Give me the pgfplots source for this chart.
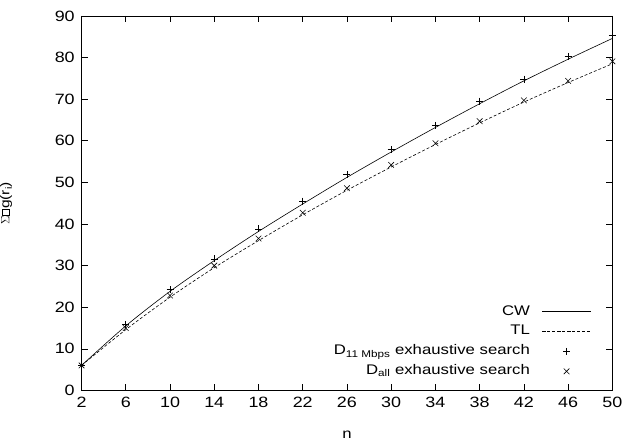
\documentclass[border=0pt]{standalone}
\usepackage{pgfplots}
\pgfplotsset{compat=1.18}
\usepackage{fontspec}
\setmainfont{Liberation Sans}[FakeStretch=1.2]
\pgfplotstableread{
n cw tl
2 6.0 6.0
6 15.5 14.6
10 23.8 22.4
14 31.2 29.5
18 38.2 36.0
22 44.8 42.2
26 51.2 48.1
30 57.3 53.7
34 63.2 59.1
38 68.9 64.3
42 74.4 69.3
46 79.6 74.0
50 84.6 78.5
}\lines
\pgfplotstableread{
n p x
2 6.0 6.0
6 15.9 15.0
10 24.2 22.8
14 31.6 30.0
18 38.8 36.5
22 45.5 42.7
26 51.9 48.6
30 57.9 54.2
34 63.7 59.4
38 69.5 64.7
42 74.8 69.7
46 80.3 74.4
50 85.4 79.1
}\marks
\pgfplotsset{
  longlegend/.style={legend image code/.code={\draw[mark repeat=2,mark phase=2,##1] plot coordinates {(0pt,0pt)(24.5pt,0pt)(49pt,0pt)};}},
}
\begin{document}
\fontsize{14}{16}\selectfont
\begin{tikzpicture}
\begin{axis}[
  scale only axis, width=533pt, height=376pt,
  xmin=2, xmax=50, ymin=0, ymax=90,
  xtick={2,6,...,50}, ytick={0,10,...,90},
  tick align=inside, major tick length=6pt,
  tick style={black, line width=0.6pt},
  axis line style={line width=0.8pt},
  /pgf/number format/assume math mode=true,
  tick label style={font=\fontsize{15}{17}\selectfont},
  xticklabel style={yshift=-2pt},
  yticklabel style={xshift=-2pt},
  label style={font=\fontsize{14}{16}\selectfont},
  xlabel={n},
  ylabel={$\Sigma${\setlength{\fboxsep}{0pt}\setlength{\fboxrule}{0.6pt}\fbox{\rule{0pt}{0.55em}\hspace{0.45em}}}g(r\textsubscript{i})},
  xlabel style={at={([yshift=-45pt]rel axis cs:0.5,0)}, anchor=center},
  ylabel style={font=\fontsize{13}{15}\selectfont, inner sep=0pt},
  ylabel shift=38pt,
  legend style={draw=none, fill=none, inner sep=0pt, at={([xshift=-21pt,yshift=11.5pt]rel axis cs:1,0)}, anchor=south east,
    legend cell align=right, row sep=5pt, column sep=11pt, font=\fontsize{14}{16}\selectfont,
    nodes={inner sep=1pt, text height=10pt, text depth=3pt}},
  legend plot pos=right,
  clip=false,
]
\addplot[black, line width=0.6pt, smooth, longlegend] table[x=n, y=cw] {\lines};
\addlegendentry{CW}
\addplot[black, line width=0.6pt, dash pattern=on 3pt off 2pt, smooth, longlegend] table[x=n, y=tl] {\lines};
\addlegendentry{TL}
\addplot[black, only marks, mark=+, mark size=3.5pt, mark options={line width=0.6pt}, longlegend] table[x=n, y=p] {\marks};
\addlegendentry{D\textsubscript{11 Mbps} exhaustive search}
\addplot[black, only marks, mark=x, mark size=4pt, mark options={line width=0.6pt}, longlegend] table[x=n, y=x] {\marks};
\addlegendentry{D\textsubscript{all} exhaustive search}
\path ([xshift=-80pt,yshift=-54pt]rel axis cs:0,0) rectangle ([xshift=14pt,yshift=16pt]rel axis cs:1,1);
\end{axis}
\end{tikzpicture}
\end{document}
